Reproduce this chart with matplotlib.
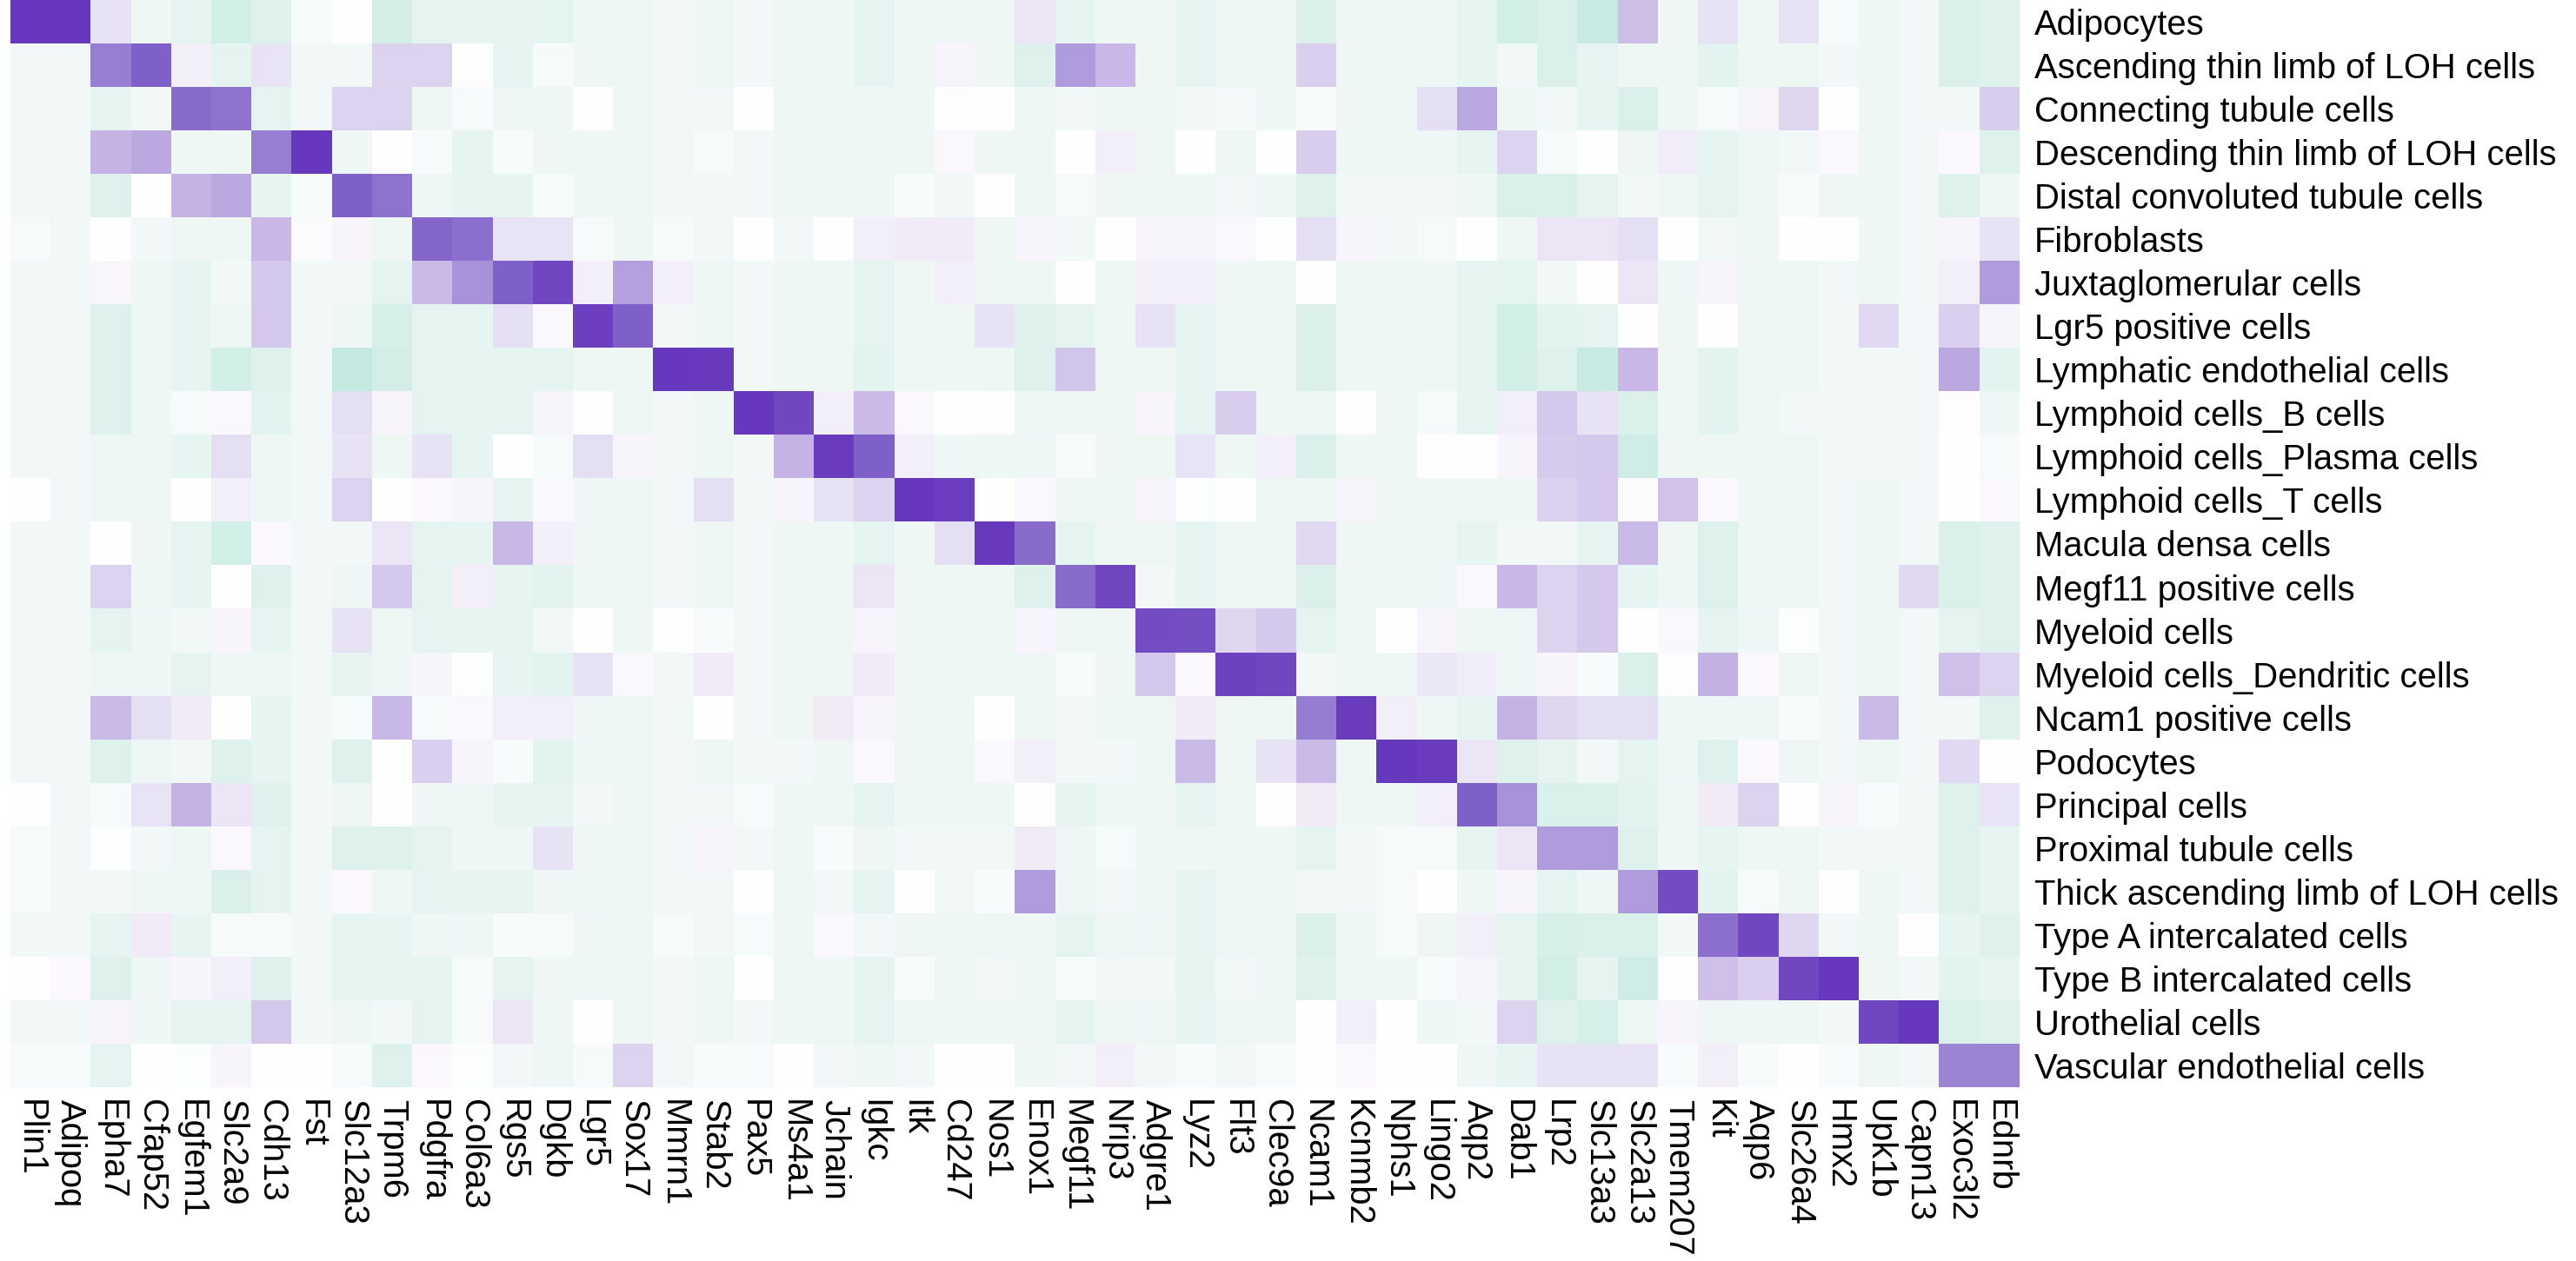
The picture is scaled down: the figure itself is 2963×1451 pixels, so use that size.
import numpy as np
import matplotlib
matplotlib.use("Agg")
import matplotlib.pyplot as plt
from matplotlib.colors import LinearSegmentedColormap

# marker genes (columns) and cell types (rows)
genes = ["Plin1", "Adipoq", "Epha7", "Cfap52", "Egfem1", "Slc2a9", "Cdh13", "Fst",
         "Slc12a3", "Trpm6", "Pdgfra", "Col6a3", "Rgs5", "Dgkb", "Lgr5", "Sox17",
         "Mmrn1", "Stab2", "Pax5", "Ms4a1", "Jchain", "Igkc", "Itk", "Cd247", "Nos1",
         "Enox1", "Megf11", "Nrip3", "Adgre1", "Lyz2", "Flt3", "Clec9a", "Ncam1",
         "Kcnmb2", "Nphs1", "Lingo2", "Aqp2", "Dab1", "Lrp2", "Slc13a3", "Slc2a13",
         "Tmem207", "Kit", "Aqp6", "Slc26a4", "Hmx2", "Upk1b", "Capn13", "Exoc3l2",
         "Ednrb"]

cell_types = ["Adipocytes", "Ascending thin limb of LOH cells", "Connecting tubule cells",
              "Descending thin limb of LOH cells", "Distal convoluted tubule cells",
              "Fibroblasts", "Juxtaglomerular cells", "Lgr5 positive cells",
              "Lymphatic endothelial cells", "Lymphoid cells_B cells",
              "Lymphoid cells_Plasma cells", "Lymphoid cells_T cells",
              "Macula densa cells", "Megf11 positive cells", "Myeloid cells",
              "Myeloid cells_Dendritic cells", "Ncam1 positive cells", "Podocytes",
              "Principal cells", "Proximal tubule cells",
              "Thick ascending limb of LOH cells", "Type A intercalated cells",
              "Type B intercalated cells", "Urothelial cells", "Vascular endothelial cells"]

# scaled expression per cell type (one value per gene)
adipocytes = [10, 10, 2, -1, -1.5, -2.8, -2, -0.5, 0, -2.7, -1.5, -1.4, -1.4, -1.6, -1, -1, -0.8,
              -1, -0.8, -1, -1, -1.5, -1, -1.1, -1, 1.7, -1.5, -1, -1, -1.4, -1, -1, -2.2,
              -1, -1, -1.1, -1.4, -2.8, -2.2, -3.5, 4, -1, 2, -1, 2, -0.5, -1, -0.8, -2.2, -2]
asc_thin = [-0.8, -0.8, 6.5, 8, 1, -1.5, 1.8, -0.8, -0.8, 3, 3, 0.1, -1.4, -0.4, -1, -1, -0.8,
            -1, -0.8, -1, -1, -1.5, -1, 0.7, -1, -2, 5.5, 4.3, -1, -1.4, -1, -1, 3.2,
            -1, -1, -1.1, -1.4, -0.8, -2.2, -1.4, -1, -1, -1.7, -1, -1, -0.8, -1, -0.8, -2.2, -2]
connecting = [-0.8, -0.8, -1.4, -0.8, 7.3, 7, -1.5, -0.8, 3, 3, -1, -0.4, -1, -1.1, 0, -1, -0.8,
              -0.8, 0, -1, -1, -1, -1, 0.1, 0, -1, -0.8, -1, -1, -0.8, -0.6, -1, -0.3,
              -1, -1, 2.2, 5, -1, -0.8, -1.4, -2.2, -1, -0.4, 0.7, 2.8, 0, -1, -0.8, -0.8, 3.3]
desc_thin = [-0.8, -0.8, 4.5, 5, -1, -1, 6.5, 10, -1.1, 0, -0.4, -1.4, -0.3, -1.1, -1, -1, -0.8,
             -0.4, -0.8, -1, -1, -1, -1, 0.4, -1, -1, 0, 1, -1, 0, -1, 0, 3.3,
             -1, -1, -1.1, -1.4, 3, -0.4, 0, -1, 1.1, -1.4, -1.1, -0.8, 0.4, -1, -0.8, 0.4, -2]
distal = [-0.8, -0.8, -2, 0, 4.5, 5, -1.4, -0.4, 8, 7, -1.1, -1.4, -1.4, -0.5, -1, -1, -0.8,
          -0.8, -0.8, -1, -1, -1.1, -0.3, -0.8, 0, -1, -0.4, -1, -1, -1, -0.8, -1, -2,
          -0.8, -0.8, -0.8, -1, -2.2, -2.2, -1.5, -0.8, -1, -1.5, -1, -0.4, -1, -1, -0.8, -2, -1.1]
fibroblasts = [-0.4, -0.8, 0, -0.8, -1, -1, 4.3, 0.3, 0.7, -1, 7.7, 7.2, 1.8, 1.8, -0.4, -1, -0.4,
               -0.8, 0, -0.8, 0, 1, 1.3, 1.3, -1, 0.7, -0.8, 0, 0.7, 0.7, 0.4, -0.1, 2.2,
               0.6, -0.8, -0.4, 0, -1, 1.7, 1.7, 2.2, 0, -0.8, -1, 0, 0, -1, -0.8, 0.6, 2]
juxta = [-0.8, -0.8, 0.5, -1, -1.4, -0.8, 3.5, -0.8, -0.8, -1.5, 4.2, 5.8, 8, 9, 1, 5.3, 1,
         -1, -0.8, -1, -1, -1.5, -1, 1, -1, -1, 0, -1, 0.9, 0.9, -1, -1, 0,
         -1, -1, -1.1, -1.4, -1.6, -0.8, 0, 1.7, -1.1, 0.7, -1, -1, -0.8, -1, -0.8, 1, 5.5]
lgr5 = [-0.8, -0.8, -2, -1, -1.4, -1, 3.5, -0.8, -1.1, -2.5, -1.5, -1.4, 2.2, 0.4, 9.5, 8, -0.8,
        -1, -0.8, -1, -1, -1.5, -1, -1, 2, -2, -1.5, -1, 2, -1.4, -1, -1, -2.2,
        -1, -1, -1.1, -1.4, -2.8, -1.7, -1.5, 0, -1, 0, -1, -1, -0.8, 2.6, -0.8, 3.2, 0.6]
lymphatic = [-0.8, -0.8, -2, -1, -1.4, -2.8, -2, -0.8, -3.8, -2.7, -1.5, -1.4, -1.4, -1.5, -1, -1, 10,
             9.8, -0.8, -1, -1, -1.7, -1, -1.1, -1, -2, 3.7, -1, -1, -1.4, -1, -1, -2.2,
             -1, -1, -1.1, -1.4, -2.8, -2, -3.5, 4.3, -1, -1.7, -1, -1, -0.8, -0.8, -0.8, 5, -1.7]
b_cells = [-0.8, -0.8, -2, -1, -0.4, 0.4, -1.7, -0.8, 2.2, 0.7, -1.5, -1.4, -1.4, 0.6, 0.1, -1, -0.8,
           -1, 10, 9, 1, 4.2, 0.4, 0, 0.1, -1, -1, -1, 0.7, -1.4, 3.3, -1, -1.1,
           0, -1, -0.4, -1.4, 1, 3.5, 2, -2.2, -1, -1.7, -1, -0.8, -0.8, -0.8, -0.8, 0.1, -1.1]
plasma = [-0.8, -0.8, -1, -1, -1.4, 2.2, -1, -0.8, 2, -1, 2, -1.4, 0, -0.4, 2.2, 0.6, -0.8,
          -1, -0.8, 4.5, 9.7, 8, 1, -1.1, -1, -1.1, -0.3, -1, -1, 1.8, -1, 0.9, -2.2,
          -1, -1, 0, 0, 0.7, 3.4, 3.5, -3, -1, -1, -1, -1, -0.8, -0.8, -0.8, 0, -0.4]
t_cells = [0, -0.8, -1, -1, 0, 1, -1.1, -0.8, 3, 0, 0.4, 0.7, -1.4, 0.4, -1.1, -1.1, -0.8,
           2.2, -0.8, 0.6, 2, 3, 10, 9.6, 0, 0.4, -1, -1, 0.6, -0.1, 0, -1, -1,
           0.7, -1, -1.1, -1, -1, 3.1, 3.5, 0.2, 3.8, 0.4, -1, -1, -0.8, -1, -0.8, 0, 0.4]
macula = [-0.8, -0.8, 0, -1, -1.5, -2.8, 0.4, -0.8, -0.8, 1.7, -1.5, -1.4, 4.3, 0.9, -1.1, -1, -0.8,
          -1, -0.8, -1, -1, -1.5, -1, 2.2, 9.8, 7.3, -1.5, -1, -1, -1.4, -1, -1, 2.6,
          -1, -1, -1.1, -1.4, -0.8, -0.8, -1.4, 4.2, -1, -2, -1, -1, -0.8, -1, -0.8, -2.2, -2]
megf11 = [-0.8, -0.8, 3, -1, -1.4, 0, -2, -0.8, -1.1, 3.5, -1.5, 1, -1.4, -1.7, -1, -1, -0.8,
          -1, -0.8, -1, -1, 1.7, -1, -1, -1, -2, 7.3, 9, -0.8, -1.4, -1, -1, -2.2,
          -1, -1, -1.1, 0.4, 4.3, 3, 3.5, -1.4, -1.1, -2, -1, -1, -0.8, -1, 2.6, -2.2, -2]
myeloid = [-0.8, -0.8, -1.5, -1.1, -0.8, 0.7, -1.4, -0.8, 2, -1, -1.5, -1.4, -1.4, -0.8, 0, -1, 0,
           -0.3, -0.8, -1, -1, 0.7, -1, -1, -1, 0.7, -1, -1, 8.8, 8.7, 2.8, 3.5, -1.5,
           -1, 0, 0.6, -1, -1.1, 3, 3.5, 0, 0.4, -1.5, -1.1, -0.1, -0.8, -1, -0.8, -1.5, -2]
dendritic = [-0.8, -0.8, -1.1, -1.1, -1.5, -1.1, -1, -0.8, -1.4, -1.1, 0.7, -0.1, -1.4, -1.7, 2, 0.4, -0.8,
             1.3, -0.8, -1, -1, 1.3, -1, -1, -1, -1.1, -0.3, -1, 3.5, 0.4, 9.3, 9, -0.8,
             -1, -1, 1.6, 1.2, -1.1, 0.7, -0.3, -2.2, 0.1, 4.6, 0.4, -1, -0.8, -1, -0.8, 3.9, 3]
ncam1 = [-0.8, -0.8, 4.2, 2.2, 1.3, 0, -1.4, -0.8, -0.5, 4.3, -0.4, 0.4, 1, 1, -1.1, -1, -0.8,
         0, -0.8, -1, 1.3, 0.7, -1, -1, 0, -1, -0.8, -1, -1, 1.3, -1, -1, 6.6,
         9.7, 1, -1.1, -1.4, 4.5, 2.8, 2.2, 2.2, -1, -1.1, -1.1, -0.3, -0.8, 4.2, -0.8, -0.8, -2]
podocytes = [-0.8, -0.8, -2, -1.1, -0.8, -2, -1.4, -0.8, -2, -0.1, 3.2, 0.6, -0.3, -1.7, -1.1, -1, -0.8,
             -1, -0.8, -0.8, -1, 0.4, -1, -1, 0.4, 1, -0.8, -0.8, -1, 4.2, -1, 2, 4.2,
             -1, 10, 9.7, 1.7, -2, -1.5, -0.8, -1.5, -1.1, -2, 0.4, -1.1, -0.8, -1, -0.8, 2.6, 0]
principal = [0, -0.8, -0.4, 1.8, 4.5, 1.7, -2, -0.8, -1, 0, -1.1, -1.1, -1.4, -1.4, -0.8, -1, -0.8,
             -0.8, -0.4, -1, -1, -1.5, -1, -1, -1, 0, -1.4, -1, -1, -1.4, -1, 0, 1.3,
             -1, -1, 1, 8, 5.8, -2.3, -2.3, -1.7, -1, 1.3, 3, 0, 0.6, -0.3, -0.8, -2, 1.8]
proximal = [-0.4, -0.8, -0.1, -0.8, -1, 0.4, -1.5, -0.8, -2, -2, -1.5, -1.1, -1.1, 2, -1, -1, -0.8,
            0.7, -0.8, -1, -0.3, -1, -0.8, -0.8, -0.8, 1.3, -1.1, -0.5, -1, -1, -1, -1, -1.5,
            -0.8, -0.4, -0.4, -1.4, 1.7, 5.5, 5.5, -2, -1.1, -1.4, -1, -1, -0.8, -0.8, -0.8, -2, -1.4]
thick_asc = [-0.4, -0.8, -0.8, -1.1, -1.1, -2.2, -1.5, -0.8, 0.4, -1, -1.5, -1.4, -1.4, -1.1, -1, -1, -0.8,
             -0.8, 0, -1, -0.8, -1.5, 0, -0.8, -0.3, 5.5, -1.1, -0.8, -1, -1.4, -1, -1, -0.8,
             -0.8, -0.4, 0, -1, 0.7, -1.5, -1.1, 5.5, 8.8, -1.7, -0.4, -1.1, 0, -1, -0.8, -2, -1.4]
type_a = [-0.8, -0.8, -1.4, 1.3, -1.4, -0.4, -0.4, -0.8, -1.4, -1.4, -1, -1.1, -0.4, -0.4, -1.1, -1, -0.5,
          -0.8, -0.5, -1, 0.4, -0.8, -1, -1.1, -1, -1.1, -1.5, -1, -1.1, -1.4, -1, -1, -2.2,
          -1, -0.4, -1, 1, -1.5, -2.5, -2.2, -2.3, -0.8, 7.2, 9, 2.8, -0.8, -1, 0, -1.4, -2]
type_b = [0, 0.4, -2, -1.1, 0.7, 1, -2, -0.8, -1.5, -1.4, -1.5, -0.4, -1.5, -1.1, -1.1, -1, -0.8,
          -1, 0, -1, -1, -1.5, -0.3, -1, -0.8, -1.1, -0.3, -0.8, -0.8, -1.4, -0.8, -1, -2,
          -1, -1, -0.3, 0.7, -1.4, -2.8, -1.5, -3, 0, 3.9, 3.2, 9, 10, -1, -0.8, -1.7, -1.4]
urothelial = [-0.8, -0.8, 0.7, -1.1, -1.5, -1.5, 3.5, -0.8, -1.1, -0.8, -1.5, -0.4, 1.7, -1.1, 0, -1, -0.8,
              -1, -0.8, -1, -1, -1.5, -1, -1.1, -1, -1, -1.5, -1, -1.1, -1.4, -1, -1, 0,
              1, 0, -1.1, -0.8, 3, -2, -2.5, -1, 0.7, -1.1, -1.1, -1.1, -0.8, 9, 10, -2.2, -2]
vascular = [-0.4, -0.4, -1.5, 0, -0.1, 0.7, 0, 0, -0.4, -2, 0.4, -0.1, -0.8, -1.1, -0.4, 3, -0.8,
            -0.4, -0.4, 0, -0.8, -1, -0.8, 0, 0, -1, -0.8, 1, -0.8, -0.3, -0.8, -0.3, 0,
            0.4, 0, 0, -1.1, -1.4, 2, 2, 2, -0.3, 1, -0.3, 0, -0.3, -1, -0.8, 6.3, 6.3]

values = np.array([adipocytes, asc_thin, connecting, desc_thin, distal, fibroblasts, juxta,
                   lgr5, lymphatic, b_cells, plasma, t_cells, macula, megf11, myeloid,
                   dendritic, ncam1, podocytes, principal, proximal, thick_asc, type_a,
                   type_b, urothelial, vascular])

# teal (low) -> white -> purple (high)
vmin, vmax = -4, 10
stops = [(-4, "#c3e9df"), (-3.5, "#c8ebe3"), (-2.7, "#d4efe8"), (-2, "#dff2ee"),
         (-1.5, "#e6f5f2"), (-1, "#f0f8f6"), (-0.5, "#f5fafa"), (0, "#ffffff"),
         (1, "#f3eff9"), (2, "#e8e2f5"), (3, "#ddd4f0"), (4.3, "#c9b8e7"), (5, "#bca9e2"),
         (5.5, "#b09cdd"), (6.5, "#987fd3"), (7.3, "#8a6ccd"), (8, "#8060c9"),
         (9, "#7148c2"), (10, "#6638bd")]
cmap = LinearSegmentedColormap.from_list(
    "tealpurple", [((v - vmin) / (vmax - vmin), c) for v, c in stops])

plt.rcParams["font.family"] = ["Liberation Sans", "DejaVu Sans"]

W, H = 2963, 1451
fig = plt.figure(figsize=(W / 100, H / 100), dpi=100)
ax = fig.add_axes([12 / W, 1 - 1251 / H, (2323 - 12) / W, 1251 / H])

ax.imshow(values, cmap=cmap, vmin=vmin, vmax=vmax, aspect="auto", interpolation="nearest")

ax.set_yticks(range(len(cell_types)))
ax.set_yticklabels(cell_types, fontsize=28.8)
ax.yaxis.tick_right()
ax.set_xticks(range(len(genes)))
ax.set_xticklabels(genes, fontsize=28.8, rotation=-90, ha="center", va="top")
ax.tick_params(axis="y", length=0, pad=12)
ax.tick_params(axis="x", length=0, pad=10)
for s in ax.spines.values():
    s.set_visible(False)

fig.savefig("out.png", dpi=100)
